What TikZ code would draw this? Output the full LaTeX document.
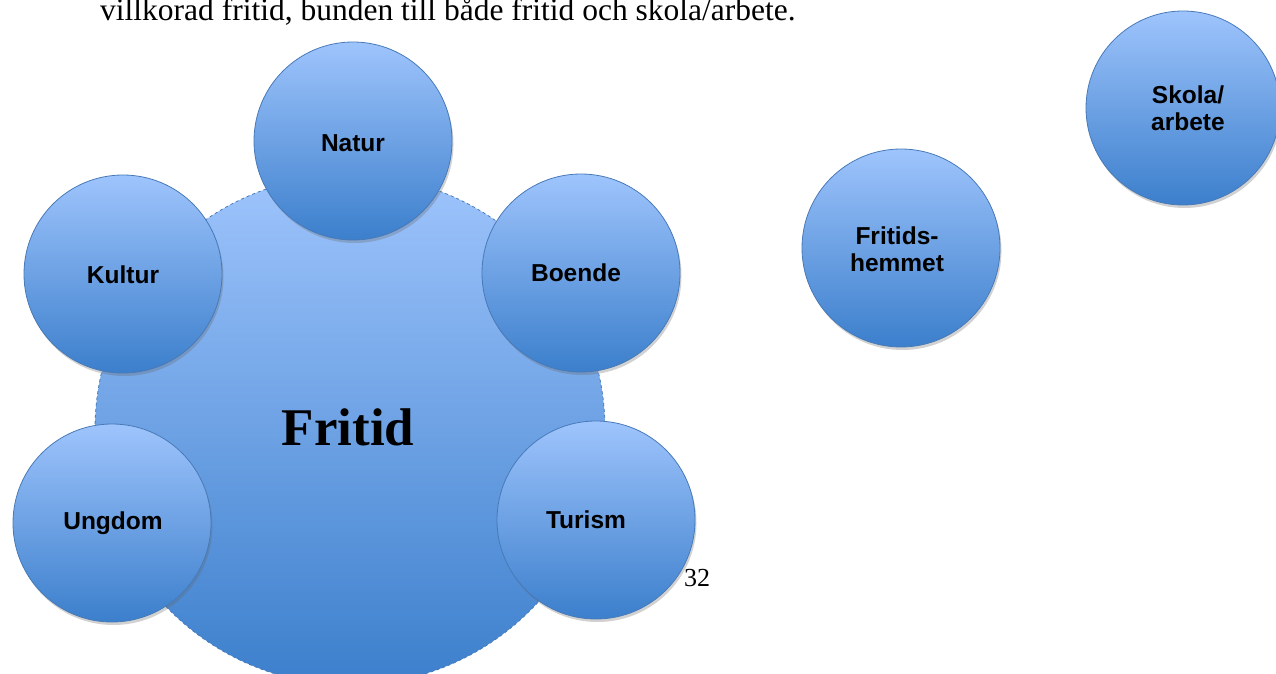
\documentclass[tikz,border=0pt]{standalone}
\usepackage{fontspec}
\setmainfont{Liberation Serif}
\newfontfamily\labfont{Liberation Sans}
\usetikzlibrary{shadows}
\definecolor{ctop}{RGB}{158,196,252}
\definecolor{cbot}{RGB}{60,127,204}
\definecolor{cedge}{RGB}{72,122,184}
\begin{document}
\begin{tikzpicture}[x=1pt,y=-1pt,
  bub/.style={circle, minimum size=198pt, inner sep=0pt, top color=ctop, bottom color=cbot,
    draw=cedge, line width=0.8pt,
    drop shadow={shadow xshift=1.5pt, shadow yshift=-3pt, opacity=0.3, fill=black!60}},
  lab/.style={inner sep=0pt, align=center,
    font=\labfont\bfseries\fontsize{24.5}{26.5}\selectfont},
  bigbub/.style={circle, minimum size=510pt, inner sep=0pt, top color=ctop, bottom color=cbot,
    draw=cedge, dashed, line width=0.8pt},
  bigtext/.style={inner sep=0pt, font=\fontsize{53}{56}\selectfont\bfseries},
  toptext/.style={anchor=base west, inner sep=0pt, font=\fontsize{31.5}{34}\selectfont},
  pagenum/.style={inner sep=0pt, font=\fontsize{26}{30}\selectfont}]
\useasboundingbox (0,0) rectangle (1276,674);
\clip (0,0) rectangle (1276,674);
\node[toptext] (intro) at (100,21) {villkorad fritid, bunden till både fritid och skola/arbete.};
\node[bigbub] (fritid) at (350,430) {};
\node[bigtext] (fritidtext) at (348,427) {Fritid};
\node[bub] (natur) at (353,141) {};
\node[lab] (naturtext) at (353,143) {Natur};
\node[bub] (kultur) at (123,274) {};
\node[lab] (kulturtext) at (123,275) {Kultur};
\node[bub] (boende) at (581,273) {};
\node[lab] (boendetext) at (576,273) {Boende};
\node[bub] (ungdom) at (112,523) {};
\node[lab] (ungdomtext) at (113,523) {Ungdom};
\node[bub] (turism) at (596,520) {};
\node[lab] (turismtext) at (586,520) {Turism};
\node[pagenum] (num) at (697,578) {32};
\node[bub] (fritids) at (901,248) {};
\node[lab] (fritidstext) at (897,249) {Fritids-\\hemmet};
\node[bub, minimum size=194pt] (skola) at (1183,108) {};
\node[lab] (skolatext) at (1188,108) {Skola/\\arbete};
\end{tikzpicture}
\end{document}
